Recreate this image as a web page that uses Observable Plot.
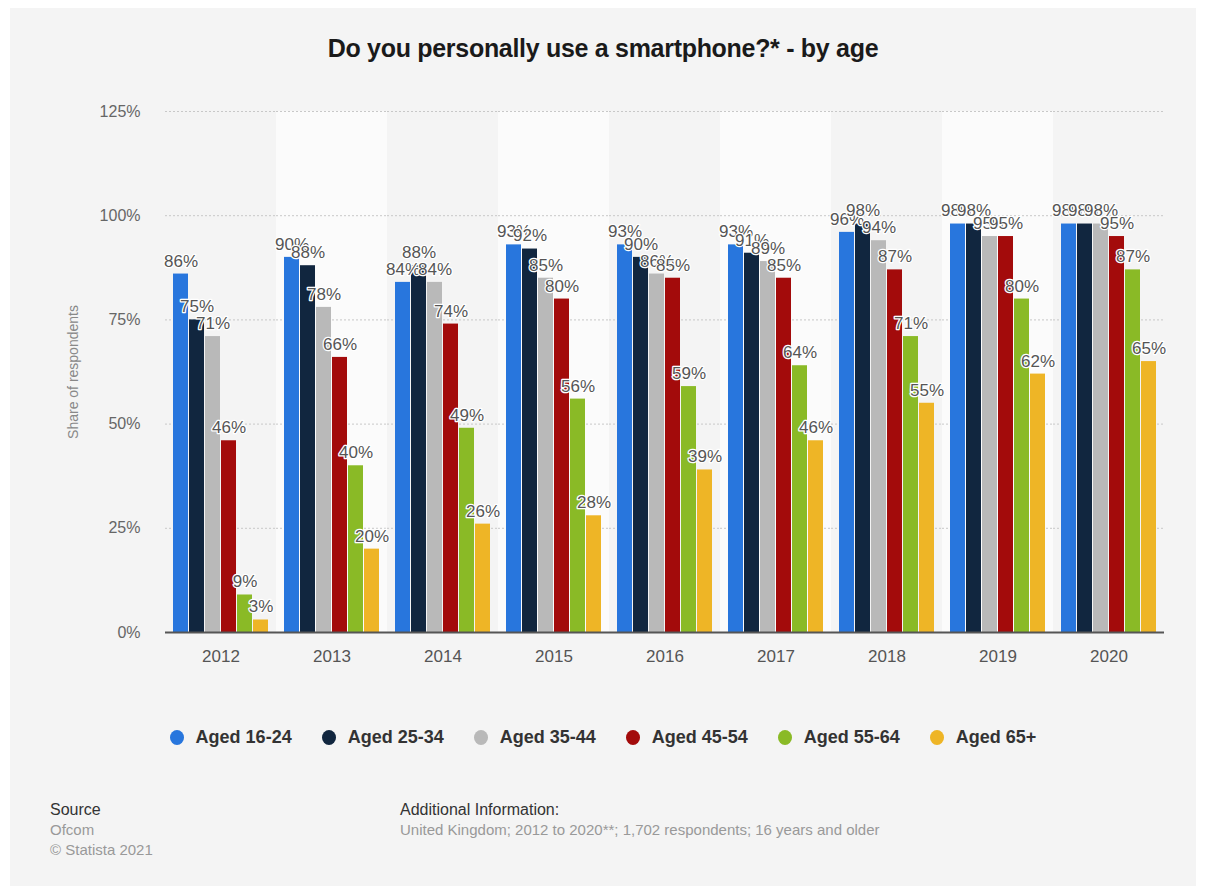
<!DOCTYPE html>
<html>
<head>
<meta charset="utf-8">
<script src="https://cdn.jsdelivr.net/npm/d3@7"></script>
<script src="https://cdn.jsdelivr.net/npm/@observablehq/plot@0.6"></script>
<style>
  html, body { margin: 0; padding: 0; background: #ffffff; }
  body { width: 1206px; height: 892px; position: relative; overflow: hidden; font-family: "Liberation Sans", Arial, sans-serif; }
  #panel { position: absolute; left: 10px; top: 8px; width: 1186px; height: 878px; background: #f4f4f4; }
  #chart { position: absolute; left: 0; top: 0; }
  #title { position: absolute; left: 0; width: 1206px; top: 34px; text-align: center; font-size: 25px; font-weight: bold; color: #1a1a1a; letter-spacing: -0.3px; }
  #legend { position: absolute; left: 0; width: 1206px; top: 727px; display: flex; justify-content: center; gap: 0; }
  .item { display: flex; align-items: center; font-size: 18px; font-weight: bold; color: #333; margin: 0 15px; }
  .dot { width: 14px; height: 15px; border-radius: 50%; margin-right: 12px; }
  .foot { position: absolute; font-size: 15px; }
  .head { color: #333; font-size: 16px; }
  .grey { color: #999; }
</style>
</head>
<body>
<div id="panel"></div>
<div id="chart"></div>
<div id="title">Do you personally use a smartphone?* - by age</div>
<div id="legend"></div>
<div class="foot" style="left:50px; top:800px; line-height:20px;">
  <div class="head">Source</div>
  <div class="grey">Ofcom</div>
  <div class="grey">© Statista 2021</div>
</div>
<div class="foot" style="left:400px; top:800px; line-height:20px;">
  <div class="head">Additional Information:</div>
  <div class="grey">United Kingdom; 2012 to 2020**; 1,702 respondents; 16 years and older</div>
</div>
<script>
const years = ["2012","2013","2014","2015","2016","2017","2018","2019","2020"];
const ages = ["Aged 16-24","Aged 25-34","Aged 35-44","Aged 45-54","Aged 55-64","Aged 65+"];
const colors = ["#2876dd","#11263f","#b9b9b9","#a30b0b","#8aba26","#eeb526"];
const aged1624 = [86, 90, 84, 93, 93, 93, 96, 98, 98];
const aged2534 = [75, 88, 88, 92, 90, 91, 98, 98, 98];
const aged3544 = [71, 78, 84, 85, 86, 89, 94, 95, 98];
const aged4554 = [46, 66, 74, 80, 85, 85, 87, 95, 95];
const aged5564 = [9, 40, 49, 56, 59, 64, 71, 80, 87];
const aged65   = [3, 20, 26, 28, 39, 46, 55, 62, 65];
const yTicks = [0, 25, 50, 75, 100, 125];

const series = [aged1624, aged2534, aged3544, aged4554, aged5564, aged65];
const data = [];
years.forEach((yr, i) => ages.forEach((a, j) => data.push({year: yr, age: a, value: series[j][i]})));
const bands = years.filter((y, i) => i % 2 === 1).map(y => ({year: y}));

const plot = Plot.plot({
  width: 1206,
  height: 700,
  marginLeft: 163,
  marginRight: 40,
  marginTop: 111,
  marginBottom: 68,
  style: {background: "transparent", fontFamily: "Liberation Sans, Arial, sans-serif", fontSize: "16px", color: "#666"},
  fx: {domain: years, padding: 0, label: null, tickSize: 0, tickPadding: 17, axis: "bottom"},
  x: {domain: ages, paddingInner: 0.07, paddingOuter: 0.5, axis: null},
  y: {domain: [0, 125], ticks: yTicks, tickFormat: d => d + "%", tickSize: 0, tickPadding: 25,
      label: "Share of respondents", labelArrow: "none", labelAnchor: "center", labelOffset: 97},
  color: {domain: ages, range: colors},
  marks: [
    Plot.rect(bands, {fx: "year", y1: 0, y2: 125, fill: "#fbfbfb"}),
    Plot.gridY(yTicks.filter(t => t > 0), {stroke: "#c8c8c8", strokeOpacity: 1, strokeDasharray: "2,2"}),
    Plot.barY(data, {fx: "year", x: "age", y: "value", fill: "age"}),
    Plot.ruleY([0], {stroke: "#555", strokeWidth: 2}),
    Plot.text(data, {fx: "year", x: "age", y: "value", text: d => d.value + "%", dy: -13,
      fill: "#555", stroke: "white", strokeWidth: 2.5, fontSize: 17})
  ]
});
document.getElementById("chart").appendChild(plot);

// axis label styling
plot.querySelectorAll("[aria-label='y-axis label'] text, [aria-label='y-axis label']").forEach(e => {
  e.setAttribute("font-size", "14"); e.style.fontSize = "14px"; e.setAttribute("fill", "#888");
});
plot.querySelectorAll("[aria-label='y-axis label'] text").forEach(e => {
  e.textContent = e.textContent.replace(/\s*[→↑]\s*/g, "").trim();
});
plot.querySelectorAll("[aria-label='fx-axis tick label'] text, [aria-label='fx-axis tick label']").forEach(e => {
  e.setAttribute("font-size", "17"); e.setAttribute("fill", "#555");
});

const legend = document.getElementById("legend");
ages.forEach((a, j) => {
  const it = document.createElement("div");
  it.className = "item";
  it.innerHTML = `<span class="dot" style="background:${colors[j]}"></span>${a}`;
  legend.appendChild(it);
});
</script>
</body>
</html>
